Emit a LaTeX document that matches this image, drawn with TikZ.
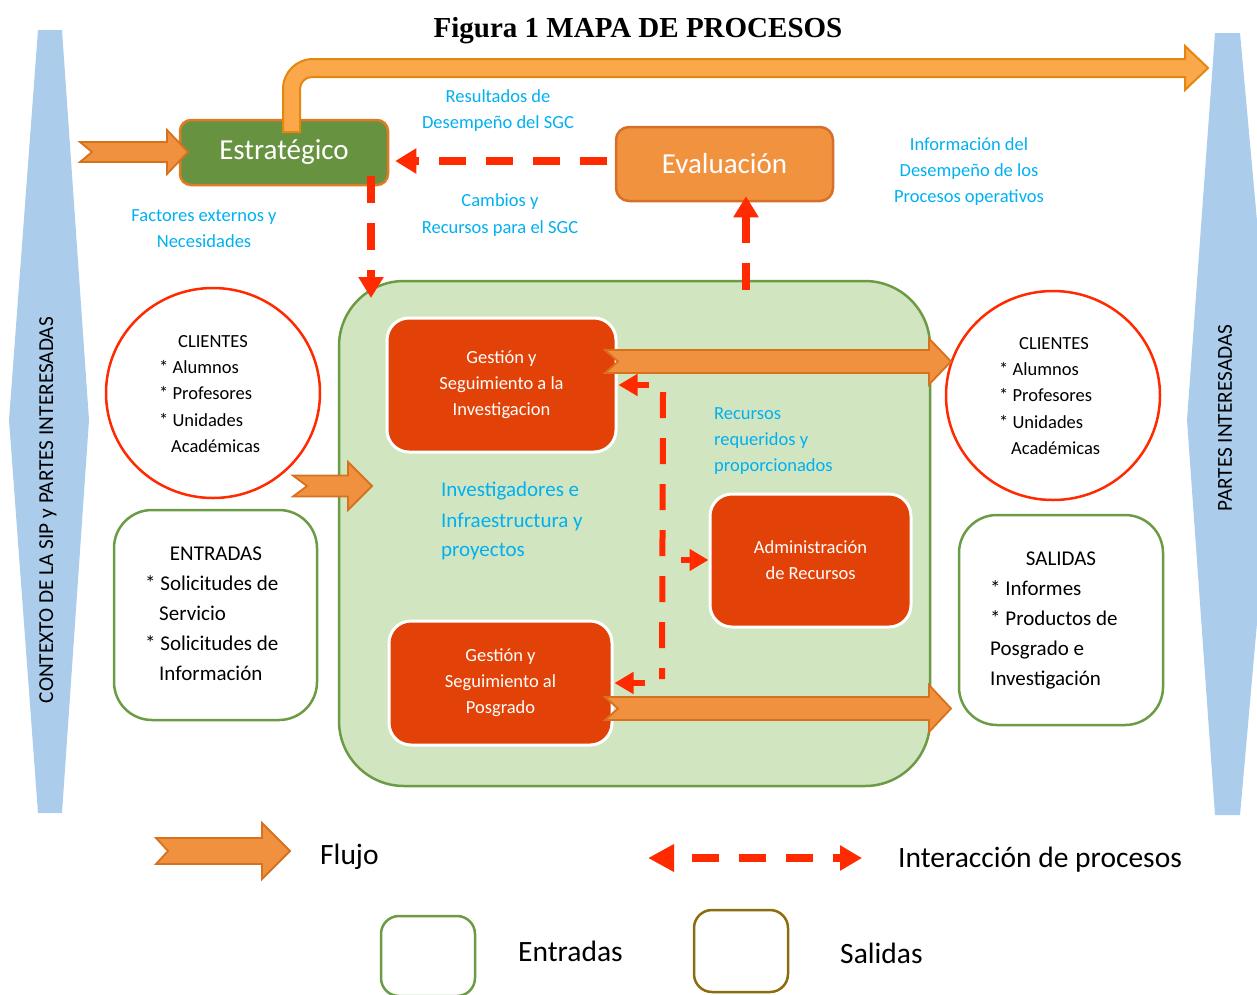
\documentclass[tikz,border=0pt]{standalone}
\usepackage{fontspec}
\setmainfont{Carlito}
\newfontfamily\titlefont{Liberation Serif}
\usetikzlibrary{shapes.geometric,arrows.meta}
\definecolor{sideblue}{HTML}{ABCDEB}
\definecolor{flowfill}{HTML}{F0913F}
\definecolor{flowdraw}{HTML}{D7711D}
\definecolor{topfill}{HTML}{FBA84B}
\definecolor{topdraw}{HTML}{E4870F}
\definecolor{estrfill}{HTML}{679240}
\definecolor{estrdraw}{HTML}{E07A26}
\definecolor{evalfill}{HTML}{F1923F}
\definecolor{evaldraw}{HTML}{D5702A}
\definecolor{procfill}{HTML}{E24207}
\definecolor{bigfill}{HTML}{D1E5C1}
\definecolor{greenline}{HTML}{6C9B45}
\definecolor{redline}{HTML}{FF2A00}
\definecolor{cyantext}{HTML}{00B0F0}
\definecolor{oliveline}{HTML}{8C6D0E}
\newcommand\flowarrow[7]{%
  \filldraw[flow] (#1,{#3-#4}) -- ({#2-#6},{#3-#4}) -- ({#2-#6},{#3-#5}) -- (#2,#3)
    -- ({#2-#6},{#3+#5}) -- ({#2-#6},{#3+#4}) -- (#1,{#3+#4}) -- ({#1+#7},#3) -- cycle;}
\begin{document}
\begin{tikzpicture}[x=1pt,y=-1pt,
  flow/.style={fill=flowfill,draw=flowdraw,line width=1.8pt,line join=miter},
  interact/.style={draw=redline,line width=8pt,dash pattern=on 27pt off 20pt,-{Triangle[length=21pt,width=24pt]}},
  interactsm/.style={draw=redline,line width=6pt,-{Triangle[length=19pt,width=21pt]}},
  estrbox/.style={rectangle,rounded corners=11pt,minimum width=208pt,minimum height=65pt,fill=estrfill,draw=estrdraw,line width=2.5pt,text=white,font=\fontsize{29}{33}\selectfont,inner sep=0pt},
  evalbox/.style={rectangle,rounded corners=13pt,minimum width=217pt,minimum height=74pt,fill=evalfill,draw=evaldraw,line width=2.5pt,text=white,font=\fontsize{29}{33}\selectfont,inner sep=0pt},
  bigbox/.style={rectangle,rounded corners=65pt,minimum width=591pt,minimum height=505pt,fill=bigfill,draw=greenline,line width=2.5pt,inner sep=0pt},
  procbox/.style={rectangle,rounded corners=22pt,fill=procfill,draw=white,line width=3pt,text=white,align=center,font=\fontsize{18.5}{26}\selectfont,inner sep=0pt},
  clientcirc/.style={ellipse,draw=redline,line width=2.5pt,fill=white,inner sep=0pt},
  iobox/.style={rectangle,rounded corners=38pt,draw=greenline,line width=2.5pt,fill=white,inner sep=0pt},
  legbox/.style={rectangle,rounded corners=18pt,line width=2.5pt,fill=white,inner sep=0pt,minimum width=94pt},
  cyantxt/.style={text=cyantext,font=\fontsize{18.5}{22}\selectfont,inner sep=0pt},
  bigcyan/.style={text=cyantext,font=\fontsize{21}{25}\selectfont,inner sep=0pt,anchor=base west},
  smalltxt/.style={font=\fontsize{18.5}{22}\selectfont,inner sep=0pt},
  iotxt/.style={font=\fontsize{21}{25}\selectfont,inner sep=0pt},
  legtxt/.style={font=\fontsize{29.5}{33}\selectfont,inner sep=0pt,anchor=base west},
  sidetxt/.style={font=\fontsize{21.3}{25}\selectfont,inner sep=0pt,rotate=90}]
\useasboundingbox (0,0) rectangle (1257,994);
% side shapes
\fill[sideblue] (38,30) -- (62,30) -- (89,420) -- (62,813) -- (38,813) -- (9,420) -- cycle;
\fill[sideblue] (1215,33) -- (1240,33) -- (1275,420) -- (1240,815) -- (1215,815) -- (1187,420) -- cycle;
\node[sidetxt] (ctx) at (48,510) {CONTEXTO DE LA SIP y PARTES INTERESADAS};
\node[sidetxt] (pint) at (1225,418) {PARTES INTERESADAS};
% title
\node[anchor=base,inner sep=0pt,font=\titlefont\bfseries\fontsize{29}{33}\selectfont] (title) at (638,37) {Figura 1 MAPA DE PROCESOS};
% top boxes
\node[estrbox] (estr) at (284,152.5) {Estratégico};
\filldraw[fill=topfill,draw=topdraw,line width=2pt,line join=miter]
  (283,132) -- (283,89) .. controls (283,72.4) and (296.4,59) .. (313,59) -- (1185,59) -- (1185,46) -- (1208,68)
  -- (1185,90) -- (1185,77) -- (312,77) .. controls (305.4,77) and (300,82.4) .. (300,89) -- (300,132) -- cycle;
\flowarrow{80}{188}{152}{10}{22}{21}{12}
\node[evalbox] (eval) at (724.5,164) {Evaluación};
% main process area
\node[bigbox] (big) at (634.5,533.5) {};
\node[procbox,minimum width=229pt,minimum height=134pt] (ginv) at (501.5,385) {Gestión y\\Seguimiento a la\\Investigacion};
\node[procbox,minimum width=201pt,minimum height=133pt] (admin) at (810.5,560.5) {Administración\\de Recursos};
\node[procbox,minimum width=223pt,minimum height=124pt] (gpos) at (500.5,683) {Gestión y\\Seguimiento al\\Posgrado};
% clients and io
\node[clientcirc,minimum width=214pt,minimum height=210pt] (lcli) at (213,393) {};
\node[clientcirc,minimum width=214pt,minimum height=209pt] (rcli) at (1053,395.5) {};
\node[iobox,minimum width=203pt,minimum height=210pt] (entr) at (215.5,615) {};
\node[iobox,minimum width=204pt,minimum height=210pt] (sal) at (1061,620) {};
% flow arrows
\flowarrow{293}{372}{486}{10.5}{24}{24}{14}
\flowarrow{605}{951}{361.5}{11.5}{23}{22}{13}
\flowarrow{605}{951}{708.5}{11.5}{23.5}{22}{13}
% texts in clients
\node[smalltxt,anchor=base] (lc0) at (213,347) {CLIENTES};
\node[smalltxt,anchor=base west] (lc1) at (159,373) {* Alumnos};
\node[smalltxt,anchor=base west] (lc2) at (159,399) {* Profesores};
\node[smalltxt,anchor=base west] (lc3) at (159,426) {* Unidades};
\node[smalltxt,anchor=base west] (lc4) at (171,452) {Académicas};
\node[smalltxt,anchor=base] (rc0) at (1054,349) {CLIENTES};
\node[smalltxt,anchor=base west] (rc1) at (999,375) {* Alumnos};
\node[smalltxt,anchor=base west] (rc2) at (999,401) {* Profesores};
\node[smalltxt,anchor=base west] (rc3) at (999,428) {* Unidades};
\node[smalltxt,anchor=base west] (rc4) at (1011,454) {Académicas};
\node[iotxt,anchor=base] (en0) at (216,560) {ENTRADAS};
\node[iotxt,anchor=base west] (en1) at (145,590) {* Solicitudes de};
\node[iotxt,anchor=base west] (en2) at (159,620) {Servicio};
\node[iotxt,anchor=base west] (en3) at (145,650) {* Solicitudes de};
\node[iotxt,anchor=base west] (en4) at (159,680) {Información};
\node[iotxt,anchor=base] (sa0) at (1061,565) {SALIDAS};
\node[iotxt,anchor=base west] (sa1) at (990,595) {* Informes};
\node[iotxt,anchor=base west] (sa2) at (990,625) {* Productos de};
\node[iotxt,anchor=base west] (sa3) at (990,655) {Posgrado e};
\node[iotxt,anchor=base west] (sa4) at (990,685) {Investigación};
% red interactions
\coordinate (ly) at (0,161);
\draw[interact,shorten <=8pt] (eval.west |- ly) -- ([xshift=6pt]estr.east |- ly);
\coordinate (ed) at (371,298);
\draw[interact] ([yshift=10pt]estr.south -| ed) -- (ed);
\coordinate (eu) at (746,290);
\draw[interact] (eu) -- ([yshift=6pt]eval.south -| eu);
\coordinate (v1) at (663,392);
\coordinate (v2) at (662,679);
\draw[draw=redline,line width=6pt,dash pattern=on 26pt off 20pt] (v1) -- (v2);
\coordinate (h1) at (649,385);
\draw[interactsm] (h1) -- ([xshift=1pt]ginv.east |- h1);
\coordinate (h2) at (681,560);
\draw[interactsm] (h2) -- (admin.west |- h2);
\coordinate (h3) at (645,683);
\draw[interactsm] (h3) -- ([xshift=1pt]gpos.east |- h3);
% cyan labels
\node[cyantxt,anchor=base] (r1) at (498,102) {Resultados de};
\node[cyantxt,anchor=base] (r2) at (498,128) {Desempeño del SGC};
\node[cyantxt,anchor=base] (c1) at (500,206) {Cambios y};
\node[cyantxt,anchor=base] (c2) at (500,233) {Recursos para el SGC};
\node[cyantxt,anchor=base] (f1) at (204,221) {Factores externos y};
\node[cyantxt,anchor=base] (f2) at (204,247) {Necesidades};
\node[cyantxt,anchor=base] (i1) at (969,150) {Información del};
\node[cyantxt,anchor=base] (i2) at (969,176) {Desempeño de los};
\node[cyantxt,anchor=base] (i3) at (969,202) {Procesos operativos};
\node[cyantxt,anchor=base west] (q1) at (714,419) {Recursos};
\node[cyantxt,anchor=base west] (q2) at (714,445) {requeridos y};
\node[cyantxt,anchor=base west] (q3) at (714,471) {proporcionados};
\node[bigcyan] (b1) at (441,496) {Investigadores e};
\node[bigcyan] (b2) at (441,527) {Infraestructura y};
\node[bigcyan] (b3) at (441,556) {proyectos};
% legend
\flowarrow{156}{290}{851}{13}{28}{28}{12}
\node[legtxt] (lflujo) at (320,864) {Flujo};
\coordinate (lgA) at (648,858);
\coordinate (lgB) at (862,858);
\draw[draw=redline,line width=8pt,dash pattern=on 27pt off 20pt,dash phase=27pt,
  {Triangle[length=26pt,width=26pt]}-{Triangle[length=22pt,width=24pt]}] (lgA) -- (lgB);
\node[legtxt] (linter) at (898,867) {Interacción de procesos};
\node[legbox,draw=greenline,minimum height=80pt] (lgent) at (428,956) {};
\node[legtxt] (lent) at (518,961) {Entradas};
\node[legbox,draw=oliveline,minimum height=82pt] (lgsal) at (741,951) {};
\node[legtxt] (lsal) at (840,963) {Salidas};
\end{tikzpicture}
\end{document}
